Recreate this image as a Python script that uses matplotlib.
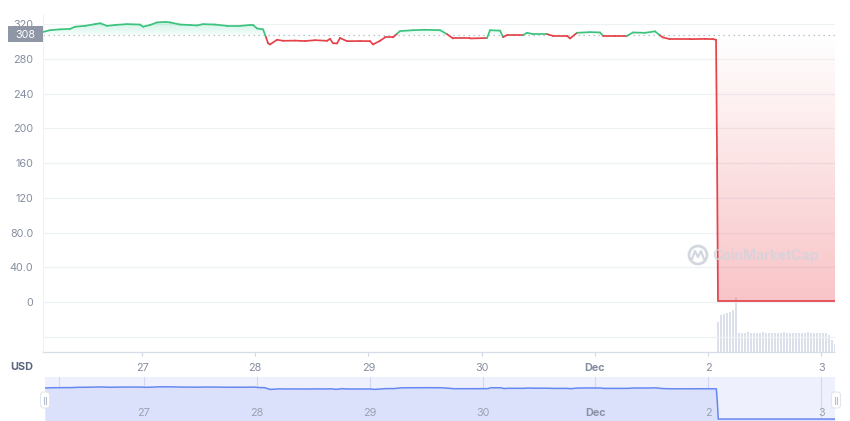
import numpy as np
import matplotlib
matplotlib.use('Agg')
import matplotlib.pyplot as plt
from matplotlib.collections import LineCollection
from matplotlib.patches import FancyBboxPatch, Rectangle, Circle, PathPatch
from matplotlib.path import Path

plt.rcParams['font.family'] = ['Inter', 'DejaVu Sans']

# ---------------- data ----------------
# time in days (Nov day numbers; 31 = Dec 1, 32 = Dec 2, 33 = Dec 3)
price_time = [26.125, 26.187, 26.276, 26.364, 26.408, 26.496, 26.585, 26.629, 26.691, 26.761,
              26.867, 26.982, 27.009, 27.071, 27.133, 27.203, 27.247, 27.336, 27.424, 27.486,
              27.539, 27.645, 27.751, 27.866, 27.954, 27.981, 28.016, 28.069, 28.095, 28.113,
              28.131, 28.193, 28.246, 28.352, 28.440, 28.528, 28.634, 28.661, 28.687, 28.723,
              28.749, 28.811, 28.926, 29.014, 29.041, 29.102, 29.147, 29.217, 29.253, 29.279,
              29.394, 29.500, 29.633, 29.694, 29.747, 29.898, 30.048, 30.074, 30.163, 30.189,
              30.224, 30.366, 30.401, 30.454, 30.578, 30.631, 30.754, 30.781, 30.843, 30.958,
              31.046, 31.072, 31.178, 31.284, 31.337, 31.443, 31.532, 31.576, 31.602, 31.664,
              31.841, 31.973, 32.044, 32.071, 32.080, 32.088, 33.122]
price_usd = [311.0, 313.0, 314.0, 314.5, 317.0, 318.0, 320.0, 321.0, 318.0, 319.0,
             320.0, 319.5, 317.0, 319.0, 322.0, 322.5, 322.0, 319.5, 319.0, 318.5,
             320.0, 319.5, 318.0, 318.0, 319.0, 319.0, 315.0, 314.0, 305.0, 298.0,
             296.6, 302.0, 300.8, 301.0, 300.5, 301.5, 300.8, 303.0, 298.0, 297.8,
             304.0, 300.4, 300.5, 300.4, 296.6, 300.8, 304.7, 304.7, 309.0, 312.0,
             313.0, 313.5, 313.0, 308.5, 303.5, 303.5, 304.0, 313.0, 312.5, 305.0,
             307.3, 307.3, 310.0, 308.5, 308.5, 306.5, 306.5, 303.5, 310.0, 310.8,
             310.4, 306.5, 306.5, 306.5, 310.4, 310.0, 311.7, 307.0, 304.7, 302.7,
             302.7, 303.0, 302.7, 302.0, 165.0, 1.5, 1.5]
ref_price = 308

vol_start = 32.080
vol_step = 0.0265
volume = [30, 37, 38, 39, 40, 42, 54, 19, 19, 19, 20, 19, 19, 19, 19, 20,
          19, 19, 19, 19, 19, 19, 20, 19, 19, 19, 19, 19, 19, 19, 20, 19,
          19, 19, 19, 19, 19, 17, 12, 8]

tick_days = [27, 28, 29, 30, 31, 32, 33]
tick_labels = ['27', '28', '29', '30', 'Dec', '2', '3']
ytick_vals = [-40, 0, 40, 80, 120, 160, 200, 240, 280, 320]
ytick_labels = ['', '0', '40.0', '80.0', '120', '160', '200', '240', '280', '320']

GREEN = '#3cc47e'
RED = '#e5424a'
GRID = '#eff2f5'
LABEL = '#858e9f'

t = np.array(price_time)
p = np.array(price_usd)
x0, x1 = 26.125, 33.122
ylo, yhi = -57.5, 330.5

W, H = 850, 421
fig = plt.figure(figsize=(W / 100, H / 100), dpi=100)
fig.patch.set_facecolor('white')

# volume axis (behind)
axv = fig.add_axes([43 / W, 1 - 352 / H, 792 / W, 337 / H])
ax = fig.add_axes([43 / W, 1 - 352 / H, 792 / W, 337 / H], sharex=axv)
ax.set_zorder(axv.get_zorder() + 1)
ax.patch.set_visible(False)

vt = vol_start + vol_step * np.arange(len(volume))
axv.bar(vt, volume, width=vol_step * 0.55, color='#dbe0ea', align='edge', linewidth=0)
axv.set_ylim(0, 337)
axv.set_xlim(x0, x1)
axv.axis('off')

# grid
for v in ytick_vals:
    ax.axhline(v, color=GRID, lw=0.9, zorder=0)

# gradient fills
def grad_fill(mask_above, color, a_ref, a_far, v_far):
    poly = ax.fill_between(t, p, ref_price, where=mask_above, interpolate=True,
                           facecolor='none', edgecolor='none')
    paths = poly.get_paths()
    if not paths:
        return
    comp = Path.make_compound_path(*paths)
    patch = PathPatch(comp, transform=ax.transData, facecolor='none', edgecolor='none')
    ax.add_patch(patch)
    n = 256
    vals = np.linspace(ylo, yhi, n)
    frac = np.clip((vals - ref_price) / (v_far - ref_price), 0, 1)
    alpha = a_ref + (a_far - a_ref) * frac
    rgb = matplotlib.colors.to_rgb(color)
    img = np.zeros((n, 2, 4))
    img[..., 0], img[..., 1], img[..., 2] = rgb
    img[..., 3] = alpha[:, None]
    im = ax.imshow(img, extent=[x0, x1, ylo, yhi], origin='lower', aspect='auto', zorder=1)
    im.set_clip_path(patch)

grad_fill(p >= ref_price, '#16c784', 0.04, 0.2, 322)
grad_fill(p < ref_price, '#ea3943', 0.0, 0.3, 0)

# colored line
pts = np.column_stack([t, p])
segs = np.stack([pts[:-1], pts[1:]], axis=1)
mid = (p[:-1] + p[1:]) / 2
cols = [GREEN if m >= ref_price else RED for m in mid]
lc = LineCollection(segs, colors=cols, linewidths=1.25, zorder=3, capstyle='round', joinstyle='round')
ax.add_collection(lc)

# reference dotted line
ax.axhline(ref_price, color='#a9b1c0', lw=0.9, ls=(0, (1, 3)), zorder=2)

ax.set_xlim(x0, x1)
ax.set_ylim(ylo, yhi)
ax.set_yticks(ytick_vals)
ax.set_yticklabels(ytick_labels)
ax.set_xticks(tick_days)
ax.set_xticklabels(tick_labels)
for lab in ax.get_xticklabels():
    if lab.get_text() == 'Dec':
        lab.set_fontweight('bold')
ax.tick_params(axis='y', length=0, pad=7, labelcolor=LABEL, labelsize=7.8)
ax.tick_params(axis='x', length=3, width=0.8, color='#cfd6e4', pad=5, labelcolor=LABEL, labelsize=7.8)
for s in ['top', 'right']:
    ax.spines[s].set_visible(False)
ax.spines['left'].set_color('#eef1f5')
ax.spines['bottom'].set_color('#d6dce8')
ax.spines['bottom'].set_linestyle((0, (1, 1)))
ax.spines['bottom'].set_linewidth(0.9)

# watermark
wm_ax = fig.add_axes([0, 0, 1, 1], zorder=5)
wm_ax.set_xlim(0, W)
wm_ax.set_ylim(H, 0)
wm_ax.axis('off')
wm_ax.patch.set_visible(False)
wm_ax.add_patch(Circle((698, 255), 9, fill=False, ec='#c9ced9', lw=2.0, alpha=0.8))
wm_ax.plot([692, 695, 698, 701, 704], [259, 251, 257, 251, 259], color='#c9ced9', lw=1.6, alpha=0.8)
wm_ax.text(712, 256, 'CoinMarketCap', fontsize=10, fontweight='bold', color='#cfd4de',
           alpha=0.75, va='center', ha='left')

# badge 308
wm_ax.add_patch(Rectangle((8, 26), 35, 16, facecolor='#8f96a6', edgecolor='none'))
wm_ax.text(25.5, 34.5, '308', color='white', fontsize=7.8, ha='center', va='center')

# USD label
wm_ax.text(22, 366.5, 'USD', color='#58667e', fontsize=7.8, fontweight='bold', ha='center', va='center')

# navigator
nav = fig.add_axes([45 / W, 0, 790 / W, 44 / H], zorder=1)
nav.set_facecolor('#eef0fd')
nav.fill_between(t, p, -18, color='#dce1fb', lw=0)
nav.plot(t, p, color='#6688f2', lw=1.1)
nav.set_xlim(x0, x1)
nav.set_ylim(-18, 420)
for d in tick_days:
    nav.axvline(d, color='#d2d7f2', lw=0.8, zorder=0.5)
nav.axvline(26.25, color='#d2d7f2', lw=0.8, zorder=0.5)
for d, lab in zip(tick_days, tick_labels):
    nav.text(d, 0.18, lab, transform=nav.get_xaxis_transform(), ha='center', va='center',
             fontsize=7.8, color='#9aa2b3' if lab != 'Dec' else '#8a93a5',
             fontweight='bold' if lab == 'Dec' else 'normal')
nav.set_xticks([])
nav.set_yticks([])
for s in nav.spines.values():
    s.set_visible(False)

# handles
for hx in (45, 836):
    wm_ax.add_patch(FancyBboxPatch((hx - 4.5, 392), 9, 16, boxstyle='round,pad=0,rounding_size=3',
                                   facecolor='white', edgecolor='#e3e6ee', lw=0.8, zorder=6))
    wm_ax.plot([hx - 1, hx - 1], [396.5, 403.5], color='#b8bfcc', lw=0.8, zorder=7)
    wm_ax.plot([hx + 1, hx + 1], [396.5, 403.5], color='#b8bfcc', lw=0.8, zorder=7)

fig.savefig('out.png', dpi=100, facecolor='white')
